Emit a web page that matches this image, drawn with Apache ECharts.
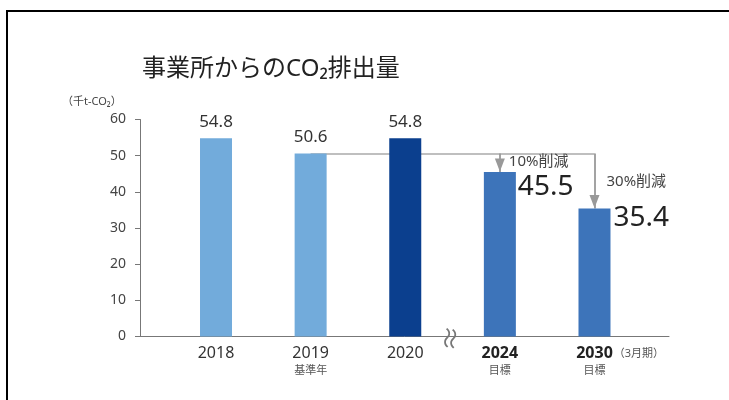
<!DOCTYPE html>
<html><head><meta charset="utf-8">
<script src="https://cdn.jsdelivr.net/npm/echarts@6/dist/echarts.min.js"></script>
<style>html,body{margin:0;padding:0;background:#fff}#c{width:729px;height:400px}</style>
</head><body><div id="c"></div>
<script>
// ---- data ----
const categories = ['2018', '2019', '2020', '2024', '2030'];
const subLabels = ['', '基準年', '', '目標', '目標'];
const values = [54.8, 50.6, 54.8, 45.5, 35.4];
const reductions = ['', '', '', '10%削減', '30%削減'];
const yTicks = [0, 10, 20, 30, 40, 50, 60];
const baseYear = '2019';
const breakAfter = '2020';
const periodNote = '（3月期）';
const titleText = '事業所からのCO₂排出量';
const unitText = '（千t-CO₂）';

// ---- styles ----
const FONT = "'Noto Sans','Noto Sans CJK JP',sans-serif";
const barColors = ['#72ABDB', '#72ABDB', '#0B3F8E', '#3D74BA', '#3D74BA'];
const targetLabelLayouts = [
  { offset: [-7, -20], valueLineHeight: 30, valuePad: 9 },
  { offset: [-4, -37], valueLineHeight: 54, valuePad: 7 }
];

const baseValue = values[categories.indexOf(baseYear)];
const targetIdx = categories.map((c, i) => i).filter(i => reductions[i]);
const lastCat = categories[categories.length - 1];

const barData = values.map((v, i) => {
  const item = { value: v, itemStyle: { color: barColors[i] } };
  const t = targetIdx.indexOf(i);
  if (t >= 0) {
    const L = targetLabelLayouts[t];
    item.label = {
      show: true,
      position: ['100%', 0],
      align: 'left',
      verticalAlign: 'top',
      offset: L.offset,
      formatter: '{r|' + reductions[i] + '}\n{v|' + v.toFixed(1) + '}',
      rich: {
        r: { fontSize: 15, lineHeight: 20, color: '#444', fontFamily: FONT },
        v: { fontSize: 28, lineHeight: L.valueLineHeight, color: '#222', fontFamily: FONT, padding: [0, 0, 0, L.valuePad] }
      }
    };
  }
  return item;
});

const markLineData = [
  [{ coord: [baseYear, baseValue], symbol: 'none' }, { coord: [lastCat, baseValue], symbol: 'none' }]
].concat(targetIdx.map(i => [
  { coord: [categories[i], baseValue], symbol: 'none', lineStyle: { color: '#999', width: 1.8 } },
  { coord: [categories[i], values[i]], symbol: 'triangle', symbolSize: [10, 13], symbolOffset: [0, 7] }
]));

const gridTop = 119.5, gridBottom = 400 - 336.5;

const option = {
  animation: false,
  backgroundColor: '#fff',
  textStyle: { fontFamily: FONT },
  title: [
    { text: titleText, left: 142, top: 56, padding: 0,
      textStyle: { fontSize: 24, fontWeight: 'normal', color: '#222', fontFamily: FONT, lineHeight: 26 } },
    { text: unitText, left: 62, top: 96, padding: 0,
      textStyle: { fontSize: 11, fontWeight: 'normal', color: '#444', fontFamily: FONT } }
  ],
  grid: [
    { left: 140, right: 60, top: gridTop, bottom: gridBottom },
    { left: 168.7, right: 87.2, top: gridTop, bottom: gridBottom }
  ],
  xAxis: [
    { gridIndex: 0, type: 'value', min: 0, max: 1,
      axisLine: { show: true, lineStyle: { color: '#777', width: 1 } },
      axisTick: { show: false }, axisLabel: { show: false }, splitLine: { show: false } },
    { gridIndex: 1, type: 'category', data: categories,
      axisLine: { show: false }, axisTick: { show: false },
      axisLabel: {
        margin: 8,
        interval: 0,
        formatter: (v, i) => {
          const k = reductions[i] ? 'b' : 'n';
          let s = (v === lastCat) ? '{sp|}{' + k + '|' + v + '}{u|' + periodNote + '}' : '{' + k + '|' + v + '}';
          if (subLabels[i]) s += '\n{s|' + subLabels[i] + '}';
          return s;
        },
        rich: {
          n: { fontSize: 16, lineHeight: 18, color: '#333', fontFamily: FONT },
          b: { fontSize: 16, lineHeight: 18, color: '#222', fontWeight: 'bold', fontFamily: FONT },
          s: { fontSize: 11, lineHeight: 16, color: '#555', fontFamily: FONT },
          u: { fontSize: 11, lineHeight: 18, color: '#555', width: 52, align: 'left', fontFamily: FONT },
          sp: { width: 52, lineHeight: 18 }
        }
      } }
  ],
  yAxis: [
    { gridIndex: 0, type: 'value', min: yTicks[0], max: yTicks[yTicks.length - 1], interval: yTicks[1] - yTicks[0],
      axisLine: { show: true, lineStyle: { color: '#777', width: 1 } },
      axisTick: { show: true, length: 5, lineStyle: { color: '#777' } },
      axisLabel: { fontSize: 14, color: '#444', margin: 14, fontFamily: FONT },
      splitLine: { show: false } },
    { gridIndex: 1, type: 'value', min: yTicks[0], max: yTicks[yTicks.length - 1], interval: yTicks[1] - yTicks[0], show: false }
  ],
  series: [{
    type: 'bar',
    xAxisIndex: 1, yAxisIndex: 1,
    barWidth: 32,
    data: barData,
    label: { show: true, position: 'top', distance: 8, fontSize: 17, color: '#333', fontFamily: FONT },
    markLine: {
      silent: true,
      z: 1,
      symbol: 'none',
      label: { show: false },
      lineStyle: { color: '#aaa', width: 1.5, type: 'solid' },
      itemStyle: { color: '#999' },
      data: markLineData
    }
  }],
  graphic: [
    { type: 'polyline', shape: { points: [[7, 400], [7, 11], [729, 11]] }, style: { stroke: '#000', lineWidth: 2, fill: null } }
  ]
};

const chart = echarts.init(document.getElementById('c'), null, { renderer: 'canvas' });
chart.setOption(option);

const bi = categories.indexOf(breakAfter);
const xa = chart.convertToPixel({ xAxisIndex: 1 }, categories[bi]);
const xb = chart.convertToPixel({ xAxisIndex: 1 }, categories[bi + 1]);
const y0 = chart.convertToPixel({ yAxisIndex: 1 }, 0);
chart.setOption({
  graphic: [
    { type: 'polyline', shape: { points: [[7, 400], [7, 11], [729, 11]] }, style: { stroke: '#000', lineWidth: 2, fill: null } },
    { type: 'text', x: (xa + xb) / 2, y: y0 + 2, rotation: Math.PI / 2 - 0.15,
      style: { text: '≈', fontSize: 26, fill: '#777', align: 'center', verticalAlign: 'middle', fontFamily: FONT } }
  ]
});
</script></body></html>
